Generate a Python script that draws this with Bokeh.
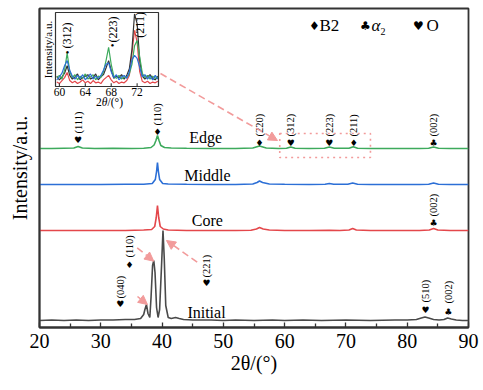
import math
from bokeh.plotting import figure
from bokeh.models import Range1d, FixedTicker, Arrow, NormalHead, Label
from bokeh.core.properties import value
from bokeh.embed import file_html
from bokeh.resources import INLINE

# ---------------- data ----------------
x_ticks = [20, 30, 40, 50, 60, 70, 80, 90]
x_minor = [25, 35, 45, 55, 65, 75, 85]

initial_x = [20, 22, 24, 26, 28, 30, 32, 34, 35.5, 36.5, 37.0, 37.2, 37.45, 37.7, 38.0, 38.2, 38.45,
             38.65, 38.85, 39.1, 39.35, 39.6, 39.9, 40.15, 40.35, 40.6, 41.0, 41.5, 42.2, 42.8, 43.5,
             45, 48, 50, 52, 55, 58, 60, 63, 66, 70, 74, 78, 80, 81.5, 82.3, 82.9, 83.5, 84.3, 85.2,
             86.0, 86.6, 87.2, 88, 89, 90]
initial_y = [7, 7.5, 7, 7.5, 7, 7.5, 7.5, 8, 8, 9, 13, 18, 23, 14, 10, 30, 62,
             67, 55, 20, 10, 18, 60, 97, 70, 22, 10, 9, 10, 9, 8,
             7.5, 7.5, 7, 7.5, 7, 7.5, 7, 7.5, 7, 7.5, 7, 7.5, 7.5, 8, 9.5, 10.5, 9.5, 8, 7.5,
             8, 9.5, 8.5, 7.5, 7, 7]

core_x = [20, 25, 30, 34, 37, 38.3, 38.8, 39.05, 39.25, 39.45, 39.7, 40.2, 41, 44, 48, 52, 54.5,
          55.4, 55.9, 56.5, 57.5, 60, 64, 67.3, 69, 70.5, 71.1, 71.7, 74, 78, 82, 83.6, 84.3, 85,
          87, 90]
core_y = [97, 97, 97, 97, 97.5, 98, 101, 110, 122, 110, 101, 98.5, 97.5, 97, 97, 97, 97.3,
          98.5, 100, 98.5, 97.5, 97, 97, 97.3, 97, 97.5, 99, 97.5, 97, 97, 97, 97.5, 99, 97.5,
          97, 97]

middle_x = [20, 25, 30, 34, 37, 38.4, 38.9, 39.1, 39.25, 39.4, 39.6, 40.1, 41, 44, 48, 52, 54.8,
            55.5, 55.9, 56.4, 57.5, 60, 64, 66.6, 67.3, 68, 70.3, 71.1, 71.9, 74, 78, 82, 83.5,
            84.3, 85.1, 87, 90]
middle_y = [143, 143, 143, 143.2, 143.3, 144, 148, 156, 165, 156, 148, 144, 143.5, 143.2, 143,
            143, 143.5, 145, 146.5, 145, 143.5, 143.2, 143, 143.2, 144, 143.2, 143.2, 144.5,
            143.2, 143, 143, 143, 143.3, 144.5, 143.3, 143, 143]

edge_x = [20, 22, 24, 25.6, 26.3, 27, 29, 32, 35, 37, 38.2, 38.7, 39.0, 39.25, 39.5, 39.8, 40.4,
          41.5, 44, 48, 52, 54.8, 55.9, 57, 59, 60.3, 61.0, 61.7, 64, 66.5, 67.3, 68.1, 70.5,
          71.2, 71.9, 74, 78, 82, 83.5, 84.3, 85.1, 87, 90]
edge_y = [179, 179, 179.3, 179.5, 181, 179.5, 179, 179.2, 179, 179.3, 180, 182.5, 187, 192, 187,
          182, 180, 179.5, 179.2, 179, 179, 179.5, 181.5, 179.5, 179, 179.3, 180.5, 179.3, 179,
          179.2, 180.5, 179.3, 179.2, 180.8, 179.3, 179, 179, 179, 179.3, 180.5, 179.3, 179, 179]

# inset (zoomed 60-75 deg)
inset_ticks = [60, 64, 68, 72]
inset_x = [59.6, 60.0, 60.4, 60.8, 61.2, 61.6, 62.0, 62.4, 62.8, 63.2, 63.6, 64.0, 64.4, 64.8,
           65.2, 65.6, 66.0, 66.4, 66.8, 67.2, 67.6, 68.0, 68.4, 68.8, 69.2, 69.6, 70.0, 70.4,
           70.8, 71.2, 71.6, 72.0, 72.4, 72.8, 73.2, 73.6, 74.0, 74.4, 74.8, 75.2]
inset_green = [12, 15, 10, 22, 45, 20, 12, 16, 9, 14, 11, 17, 10, 13, 16, 9, 14, 12, 20, 35,
               53, 30, 14, 11, 15, 10, 13, 12, 17, 30, 55, 62, 40, 18, 12, 15, 10, 14, 11, 13]
inset_blue = [9, 13, 18, 28, 35, 22, 14, 10, 15, 11, 16, 9, 13, 17, 10, 14, 11, 15, 22, 30,
              32, 20, 12, 16, 9, 13, 15, 11, 20, 36, 42, 38, 26, 13, 16, 10, 14, 9, 15, 10]
inset_black = [14, 9, 13, 18, 28, 15, 10, 13, 17, 9, 12, 14, 16, 10, 12, 17, 9, 13, 16, 25,
               35, 22, 11, 14, 12, 16, 10, 15, 24, 50, 98, 85, 35, 14, 10, 13, 16, 11, 9, 14]
inset_red = [6, 4, 8, 12, 19, 8, 5, 7, 4, 6, 9, 5, 7, 4, 8, 5, 6, 4, 9, 12,
             15, 9, 5, 7, 4, 6, 5, 8, 15, 45, 76, 60, 20, 7, 5, 7, 4, 6, 5, 7]

# peak annotations: (hkl, phase, 2theta)
edge_peaks = [("(111)", "♥", 26.3), ("(110)", "♦", 39.25), ("(220)", "♦", 55.9),
              ("(312)", "♥", 61.0), ("(223)", "♥", 67.3), ("(211)", "♦", 71.3),
              ("(002)", "♣", 84.3)]
core_peaks = [("(002)", "♣", 84.3)]
initial_peaks = [("(040)", "♥", 33.2), ("(110)", "♦", 34.7), ("(221)", "♥", 47.25),
                 ("(510)", "♥", 83.0), ("(002)", "♣", 86.7)]
inset_peaks = [("(312)", 61.25), ("(223)", 68.2), ("(211)", 72.5)]

# ---------------- layout / style ----------------
SERIF = "Liberation Serif"
SYM = "DejaVu Sans"
GREEN, BLUE, RED, GRAY = "#3daa5c", "#2c6fd6", "#e4474b", "#4a4a4a"
PINK = "#f29b9b"

edge_marker_y = [188, 196, 185, 185, 185, 185, 185]
edge_label_y = [194, 202, 191, 191, 191, 191, 191]
core_marker_y = [105]
core_label_y = [111]
initial_marker_y = [24, 63, 45, 18, 16]
initial_label_y = [29, 70, 50, 25, 24]

p = figure(width=480, height=382, x_range=Range1d(20, 90), y_range=Range1d(0, 319),
           output_backend="svg", toolbar_location=None,
           min_border_left=39, min_border_right=12, min_border_top=8, min_border_bottom=55,
           background_fill_color="white", border_fill_color="white")
p.outline_line_color = "#333333"
p.outline_line_width = 1.8
p.xgrid.visible = False
p.ygrid.visible = False

xa = p.xaxis[0]
xa.ticker = FixedTicker(ticks=x_ticks, minor_ticks=x_minor)
xa.major_tick_in = 5
xa.major_tick_out = 0
xa.minor_tick_in = 4
xa.minor_tick_out = 0
xa.major_tick_line_color = "#333333"
xa.minor_tick_line_color = "#333333"
xa.major_tick_line_width = 1.3
xa.minor_tick_line_width = 1.3
xa.axis_line_color = "#333333"
xa.axis_line_width = 1.8
xa.major_label_text_font = SERIF
xa.major_label_text_font_size = "20px"
xa.major_label_text_color = "black"
xa.major_label_standoff = 6
xa.axis_label = "2θ/(°)"
xa.axis_label_text_font = SERIF
xa.axis_label_text_font_size = "20px"
xa.axis_label_text_font_style = "normal"
xa.axis_label_text_color = "black"
xa.axis_label_standoff = 1

ya = p.yaxis[0]
ya.ticker = FixedTicker(ticks=[])
ya.major_tick_line_color = None
ya.minor_tick_line_color = None
ya.major_label_text_font_size = "0px"
ya.major_label_standoff = 0
ya.axis_line_color = "#333333"
ya.axis_line_width = 1.8
ya.axis_label = "Intensity/a.u."
ya.axis_label_text_font = SERIF
ya.axis_label_text_font_size = "20px"
ya.axis_label_text_font_style = "normal"
ya.axis_label_text_color = "black"
ya.axis_label_standoff = 9

# main curves
p.line(initial_x, initial_y, color=GRAY, line_width=1.6)
p.line(core_x, core_y, color=RED, line_width=1.6)
p.line(middle_x, middle_y, color=BLUE, line_width=1.6)
p.line(edge_x, edge_y, color=GREEN, line_width=1.6)

# series names
p.text(x=[47.1, 47.4, 47.4, 47.25], y=[190, 152, 107, 15], text=["Edge", "Middle", "Core", "Initial"],
       text_font=value(SERIF), text_font_size="16px", text_align="center", text_baseline="middle",
       text_color="black")


def annotate(peaks, label_y, marker_y):
    xs = [pk[2] for pk in peaks]
    p.text(x=xs, y=label_y, text=[pk[0] for pk in peaks], angle=math.pi / 2,
           text_font=value(SERIF), text_font_size="10.5px", text_align="left",
           text_baseline="middle", text_color="black")
    p.text(x=xs, y=marker_y, text=[pk[1] for pk in peaks], text_font=value(SYM),
           text_font_size="9px", text_align="center", text_baseline="middle", text_color="black")


annotate(edge_peaks, edge_label_y, edge_marker_y)
annotate(core_peaks, core_label_y, core_marker_y)
annotate(initial_peaks, initial_label_y, initial_marker_y)

# dotted box around the zoomed region
p.quad(left=[59.2], right=[74.0], bottom=[170], top=[194], fill_color=None,
       line_color=PINK, line_width=1.6, line_dash="2 4")


def arrow(x0, y0, x1, y1):
    p.add_layout(Arrow(x_start=x0, y_start=y0, x_end=x1, y_end=y1, line_color=PINK,
                       line_width=1.6, line_dash="7 4",
                       end=NormalHead(size=9, fill_color=PINK, line_color=PINK)))


arrow(39.74, 254, 58.83, 187)
arrow(35.99, 31, 37.62, 23)
arrow(35.94, 79.7, 38.65, 66.3)
arrow(45.73, 65.3, 40.72, 87)

# legend (top right)
for xx, sym in [(64.87, "♦"), (73.19, "♣"), (81.84, "♥")]:
    p.add_layout(Label(x=xx, y=302, text=sym, text_font=SYM, text_font_size="12px",
                       text_align="center", text_baseline="middle", text_color="black"))
p.add_layout(Label(x=65.69, y=302, text="B2", text_font=SERIF, text_font_size="17px",
                   text_align="left", text_baseline="middle", text_color="black"))
p.add_layout(Label(x=74.17, y=302, text="α", text_font=SERIF, text_font_size="17px",
                   text_font_style="italic", text_align="left", text_baseline="middle",
                   text_color="black"))
p.add_layout(Label(x=75.64, y=296, text="2", text_font=SERIF, text_font_size="10px",
                   text_align="left", text_baseline="middle", text_color="black"))
p.add_layout(Label(x=83.15, y=302, text="O", text_font=SERIF, text_font_size="17px",
                   text_align="left", text_baseline="middle", text_color="black"))

# ---------------- inset, drawn on extra ranges ----------------
FX0, FX1, FY0, FY1 = 39, 468, 8, 327          # main frame in page pixels
IX0, IX1, IY0, IY1 = 55, 158, 12, 86          # inset plot area in page pixels
IXMIN, IXMAX, IYMIN, IYMAX = 59.4, 75.3, 0.0, 100.0
kx = (IXMAX - IXMIN) / (IX1 - IX0)
ky = (IYMAX - IYMIN) / (IY1 - IY0)
p.extra_x_ranges = {"ix": Range1d(IXMIN - (IX0 - FX0) * kx, IXMAX + (FX1 - IX1) * kx)}
p.extra_y_ranges = {"iy": Range1d(IYMIN - (FY1 - IY1) * ky, IYMAX + (IY0 - FY0) * ky)}
R = dict(x_range_name="ix", y_range_name="iy")

p.line(inset_x, inset_red, color=RED, line_width=1.2, **R)
p.line(inset_x, inset_black, color="#333333", line_width=1.2, **R)
p.line(inset_x, inset_green, color=GREEN, line_width=1.2, **R)
p.line(inset_x, inset_blue, color=BLUE, line_width=1.2, **R)
p.quad(left=[IXMIN], right=[IXMAX], bottom=[IYMIN], top=[IYMAX], fill_color=None,
       line_color="#333333", line_width=1.2, **R)
p.segment(x0=inset_ticks, y0=[0] * 4, x1=inset_ticks, y1=[4.5] * 4, line_color="#333333",
          line_width=1.1, **R)
p.text(x=inset_ticks, y=[-2] * 4, text=[str(t) for t in inset_ticks], text_font=value(SERIF),
       text_font_size="11.5px", text_align="center", text_baseline="top", text_color="black", **R)
p.text(x=[IXMIN + (95.5 - IX0) * kx, IXMIN + (101.3 - IX0) * kx, IXMIN + (107.1 - IX0) * kx],
       y=[-21.5] * 3, text=["2", "θ", "/(°)"], text_font=value(SERIF), text_font_size="11.5px",
       text_font_style=["normal", "italic", "normal"], text_align="left", text_baseline="middle",
       text_color="black", **R)
p.text(x=[IXMIN + (47 - IX0) * kx], y=[50], text=["Intensity/a.u."], angle=math.pi / 2,
       text_font=value(SERIF), text_font_size="11px", text_align="center",
       text_baseline="middle", text_color="black", **R)
p.text(x=[pk[1] for pk in inset_peaks], y=[51.5, 59.5, 66], text=[pk[0] for pk in inset_peaks],
       angle=math.pi / 2, text_font=value(SERIF), text_font_size="12px", text_align="left",
       text_baseline="middle", text_color="black", **R)
p.text(x=[61.25, 68.2], y=[46.5, 55.5], text=["•", "•"], text_font=value(SERIF),
       text_font_size="11px", text_align="center", text_baseline="middle", text_color="black", **R)

open("out.html", "w").write(file_html(p, INLINE))
